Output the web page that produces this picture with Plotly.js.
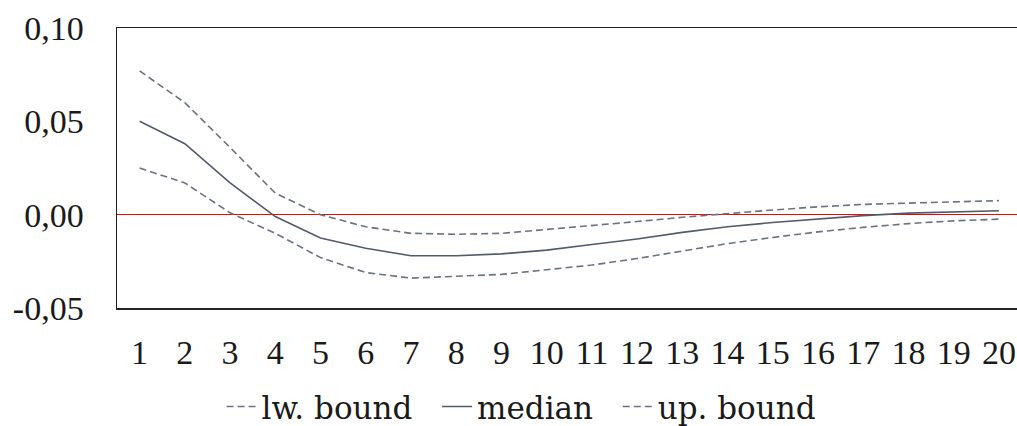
<!DOCTYPE html>
<html>
<head>
<meta charset="utf-8">
<script src="https://cdn.plot.ly/plotly-3.0.1.min.js"></script>
<style>html,body{margin:0;padding:0;background:#fff;overflow:hidden}#chart{width:1017px;height:426px}</style>
</head>
<body>
<div id="chart"></div>
<script>
const periods = [1,2,3,4,5,6,7,8,9,10,11,12,13,14,15,16,17,18,19,20];
const lowerBound = [0.025,0.017,0.001,-0.010,-0.023,-0.031,-0.034,-0.033,-0.032,-0.0295,-0.027,-0.0235,-0.0195,-0.0155,-0.0122,-0.0092,-0.0068,-0.0048,-0.0033,-0.0024];
const median = [0.050,0.038,0.017,-0.001,-0.0125,-0.018,-0.022,-0.022,-0.021,-0.019,-0.016,-0.013,-0.0095,-0.0065,-0.0042,-0.0022,-0.0005,0.0008,0.0016,0.0021];
const upperBound = [0.077,0.060,0.036,0.0115,0.000,-0.0065,-0.010,-0.0105,-0.010,-0.008,-0.006,-0.0037,-0.0014,0.0007,0.0025,0.0042,0.0055,0.0062,0.0070,0.0075];
const yTickVals = [-0.05,0,0.05,0.10];
const yTickText = ['-0,05','0,00','0,05','0,10'];
const seriesNames = ['lw. bound\u00a0\u00a0','median\u00a0\u00a0','up. bound'];

const font = {family:'Liberation Serif, Times New Roman, serif', size:34, color:'#1a1a1a'};
const legendFont = {family:'DejaVu Serif, serif', size:31, color:'#1a1a1a'};
const traces = [
  {x:periods, y:lowerBound, name:seriesNames[0], mode:'lines', line:{color:'#6b7282', width:1.6, dash:'7px,4px'}},
  {x:periods, y:median, name:seriesNames[1], mode:'lines', line:{color:'#535a6a', width:1.6}},
  {x:periods, y:upperBound, name:seriesNames[2], mode:'lines', line:{color:'#6b7282', width:1.6, dash:'7px,4px'}}
];
const layout = {
  width:1017, height:426,
  margin:{l:117, r:0, t:28, b:118},
  paper_bgcolor:'#fff', plot_bgcolor:'#fff',
  font:font,
  showlegend:true,
  legend:{orientation:'h', xref:'paper', x:0.449, xanchor:'center', yref:'container', y:0.045, yanchor:'middle', font:legendFont, itemwidth:30, tracegroupgap:0},
  xaxis:{range:[0.5,20.4], tickmode:'array', tickvals:periods, ticktext:periods.map(String),
    showgrid:false, zeroline:false, showline:true, mirror:true, linecolor:'#222', linewidth:1.5,
    ticks:'', ticklabelstandoff:14, tickfont:font},
  yaxis:{range:[-0.05,0.10], tickmode:'array', tickvals:yTickVals, ticktext:yTickText,
    showgrid:false, zeroline:true, zerolinecolor:'#ff0000', zerolinewidth:1.6,
    showline:true, mirror:false, linecolor:'#222', linewidth:1.5,
    ticks:'', ticklabelstandoff:25, tickfont:font}
};
Plotly.newPlot('chart', traces, layout, {displayModeBar:false, staticPlot:true});
</script>
</body>
</html>
